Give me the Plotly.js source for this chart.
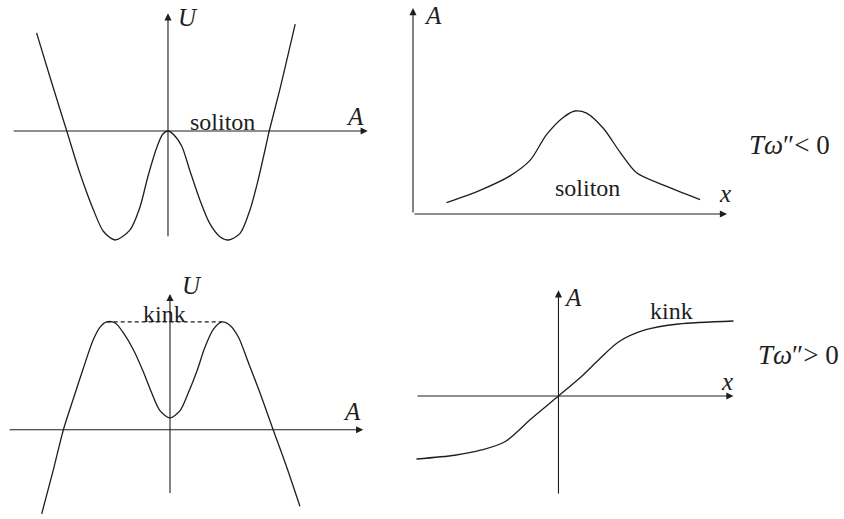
<!DOCTYPE html>
<html>
<head>
<meta charset="utf-8">
<script src="https://cdn.plot.ly/plotly-3.0.1.min.js"></script>
<style>
  html, body { margin: 0; padding: 0; background: #ffffff; }
  #potential_graph { width: 844px; height: 519px; }
</style>
</head>
<body>
<div id="potential_graph"></div>
<script>
/**
 * Colors / fonts
 */
const ink = "#1e1e1e";
const serif = "Liberation Serif, DejaVu Serif, serif";

/**
 * Top left: potential U(A) for the soliton case (double well)
 */
const soliton_pot_A = [-2.48, -2.23, -1.91, -1.66, -1.41, -1.22, -1.0, -0.72, -0.53, -0.38, -0.21, -0.10, 0,
                       0.10, 0.26, 0.41, 0.60, 0.79, 0.98, 1.14, 1.36, 1.55, 1.70, 1.86, 1.91, 2.11, 2.40];
const soliton_pot_U = [0.90, 0.50, 0, -0.39, -0.72, -0.92, -1.0, -0.91, -0.70, -0.42, -0.15, -0.03, 0,
                       -0.03, -0.14, -0.36, -0.63, -0.85, -0.97, -1.0, -0.94, -0.72, -0.45, -0.11, 0, 0.38, 0.98];

/**
 * Top right: soliton profile A(x)
 */
const soliton_x = [0.67, 1.34, 1.94, 2.34, 2.67, 3.01, 3.24, 3.47, 3.81, 4.14, 4.47, 5.01, 5.74];
const soliton_A = [0.11, 0.23, 0.37, 0.52, 0.77, 0.94, 1.0, 0.98, 0.83, 0.60, 0.40, 0.28, 0.14];

/**
 * Bottom left: potential U(A) for the kink case (double hump)
 */
const kink_pot_A = [-2.25, -2.05, -1.87, -1.70, -1.52, -1.35, -1.23, -1.11, -0.96, -0.82, -0.64, -0.47, -0.32, -0.18, 0,
                    0.18, 0.32, 0.47, 0.61, 0.76, 0.91, 1.05, 1.20, 1.37, 1.58, 1.81, 2.05, 2.28];
const kink_pot_U = [-0.78, -0.38, 0, 0.28, 0.57, 0.83, 0.95, 1.0, 0.99, 0.90, 0.74, 0.54, 0.34, 0.18, 0.11,
                    0.18, 0.34, 0.54, 0.76, 0.93, 1.0, 0.97, 0.86, 0.63, 0.34, 0, -0.35, -0.71];
const kink_level_A = [-1.11, 0.91];   // dashed line joining the two humps
const kink_level_U = [1.0, 1.0];

/**
 * Bottom right: kink profile A(x)
 */
const kink_x = [-2.84, -2.07, -1.54, -1.07, -0.54, 0, 0.46, 0.80, 1.20, 1.73, 2.40, 3.50];
const kink_A = [-0.84, -0.79, -0.72, -0.61, -0.30, 0, 0.26, 0.48, 0.72, 0.88, 0.96, 1.0];

/**
 * Extent of the drawn coordinate axes of each panel [min, max]
 */
const axes_extent = {
    p1: {h: [-2.94, 3.77], v: [-0.98, 1.08]},
    p2: {h: [0, 6.28], v: [0, 2.0]},
    p3: {h: [-2.84, 3.39], v: [-0.60, 1.26]},
    p4: {h: [-2.85, 3.50], v: [-1.32, 1.41]}
};

function curve(x, y, xa, ya, dash) {
    return {
        x: x, y: y, xaxis: xa, yaxis: ya,
        mode: 'lines',
        line: {color: ink, width: 1.3, shape: dash ? 'linear' : 'spline', smoothing: 0.8, dash: dash || 'solid'},
        hoverinfo: 'skip'
    };
}

// arrow from (x0,y0) to (x1,y1) in the data units of a subplot
function arrow(xa, ya, x0, y0, x1, y1) {
    return {
        xref: xa, yref: ya, axref: xa, ayref: ya,
        x: x1, y: y1, ax: x0, ay: y0,
        text: '', showarrow: true,
        arrowhead: 2, arrowsize: 1.3, arrowwidth: 1.1, arrowcolor: ink, standoff: 0
    };
}

function label(xa, ya, x, y, txt, size) {
    return {
        xref: xa, yref: ya, x: x, y: y, text: txt, showarrow: false,
        xanchor: 'center', yanchor: 'middle',
        font: {family: serif, size: size || 24, color: ink}
    };
}

function hiddenAxis(domain, range, anchor) {
    return {
        domain: domain, range: range, anchor: anchor,
        showgrid: false, zeroline: false, showline: false,
        showticklabels: false, ticks: '', fixedrange: true
    };
}

function drawFigure() {
    var data = [
        curve(soliton_pot_A, soliton_pot_U, 'x', 'y'),
        curve(soliton_x, soliton_A, 'x2', 'y2'),
        curve(kink_pot_A, kink_pot_U, 'x3', 'y3'),
        curve(kink_level_A, kink_level_U, 'x3', 'y3', '4px,3px'),
        curve(kink_x, kink_A, 'x4', 'y4')
    ];

    var e = axes_extent;
    var annotations = [
        // panel 1
        arrow('x', 'y', e.p1.h[0], 0, e.p1.h[1], 0),
        arrow('x', 'y', 0, e.p1.v[0], 0, e.p1.v[1]),
        label('x', 'y', 0.38, 1.04, '<i>U</i>', 25),
        label('x', 'y', 3.53, 0.13, '<i>A</i>', 25),
        label('x', 'y', 1.02, 0.08, 'soliton'),
        // panel 2
        arrow('x2', 'y2', e.p2.h[0], 0, e.p2.h[1], 0),
        arrow('x2', 'y2', 0, e.p2.v[0], 0, e.p2.v[1]),
        label('x2', 'y2', 0.40, 1.93, '<i>A</i>', 25),
        label('x2', 'y2', 6.24, 0.20, '<i>x</i>', 25),
        label('x2', 'y2', 3.48, 0.25, 'soliton'),
        // panel 3
        arrow('x3', 'y3', e.p3.h[0], 0, e.p3.h[1], 0),
        arrow('x3', 'y3', 0, e.p3.v[0], 0, e.p3.v[1]),
        label('x3', 'y3', 0.39, 1.34, '<i>U</i>', 25),
        label('x3', 'y3', 3.19, 0.17, '<i>A</i>', 25),
        label('x3', 'y3', -0.09, 1.07, 'kink'),
        // panel 4
        arrow('x4', 'y4', e.p4.h[0], 0, e.p4.h[1], 0),
        arrow('x4', 'y4', 0, e.p4.v[0], 0, e.p4.v[1]),
        label('x4', 'y4', 0.29, 1.31, '<i>A</i>', 25),
        label('x4', 'y4', 3.37, 0.19, '<i>x</i>', 25),
        label('x4', 'y4', 2.27, 1.13, 'kink'),
        // conditions
        label('paper', 'paper', 0.935, 0.721, '<i>Tω</i>″&lt; 0', 27),
        label('paper', 'paper', 0.946, 0.316, '<i>Tω</i>″&gt; 0', 27)
    ];

    var layout = {
        width: 844, height: 519,
        margin: {l: 0, r: 0, t: 0, b: 0},
        paper_bgcolor: '#ffffff', plot_bgcolor: 'rgba(0,0,0,0)',
        showlegend: false,
        xaxis: hiddenAxis([0, 0.4502], [-3.170, 4.000], 'y'),
        yaxis: hiddenAxis([0.5183, 1], [-1.092, 1.202], 'x'),
        xaxis2: hiddenAxis([0.4621, 0.8768], [-0.46, 6.54], 'y2'),
        yaxis2: hiddenAxis([0.5183, 1], [-0.35, 2.078], 'x2'),
        xaxis3: hiddenAxis([0, 0.4502], [-2.982, 3.684], 'y3'),
        yaxis3: hiddenAxis([0, 0.4817], [-0.828, 1.491], 'x3'),
        xaxis4: hiddenAxis([0.4739, 0.8886], [-3.17, 3.83], 'y4'),
        yaxis4: hiddenAxis([0, 0.4798], [-1.64, 1.68], 'x4'),
        annotations: annotations
    };

    Plotly.newPlot('potential_graph', data, layout, {staticPlot: true, displayModeBar: false});
}

drawFigure();
</script>
</body>
</html>
